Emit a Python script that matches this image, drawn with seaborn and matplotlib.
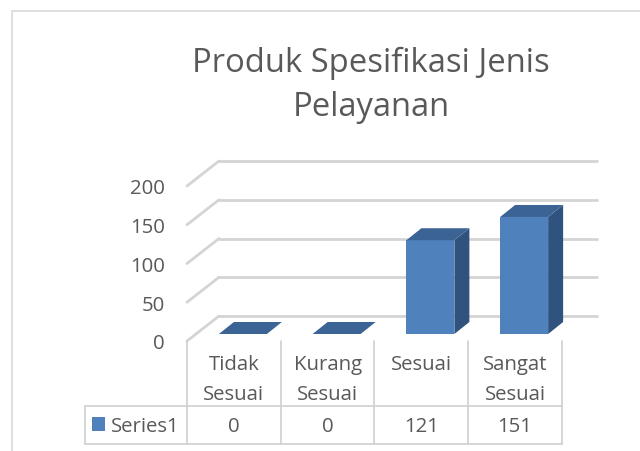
import matplotlib
matplotlib.use("Agg")
import matplotlib.pyplot as plt
import seaborn as sns
from matplotlib.patches import Polygon, Rectangle

# data
categories = ["Tidak\nSesuai", "Kurang\nSesuai", "Sesuai", "Sangat\nSesuai"]
values = [0, 0, 121, 151]
series_name = "Series1"
yticks = [0, 50, 100, 150, 200]
title = "Produk Spesifikasi Jenis\nPelayanan"

sns.set_theme(style="white")
plt.rcParams["font.family"] = ["Open Sans", "DejaVu Sans"]

TXT = "#595959"
GRID = "#d4d4d4"
FRONT = "#4f81bd"
TOP = "#3b6394"
SIDE = "#30527e"

# pixel layout -> data coords (axes covers whole figure)
X0, CW = 187, 93.75      # left of front plane, px per category
Y0, K = 342, 0.775       # px of value 0 on the front plane, px per unit


def px2x(px):
    return (px - X0) / CW - 0.5


def py2v(py):
    return (Y0 - py) / K


fig = plt.figure(figsize=(6.4, 4.52), dpi=100)
ax = fig.add_axes([0, 0, 1, 1])

sns.barplot(x=list(range(len(values))), y=values, width=0.512,
            color=FRONT, saturation=1, linewidth=0, ax=ax)
ax.set_xlim(px2x(0), px2x(640))
ax.set_ylim(py2v(452), py2v(0))
ax.axis("off")

# depth of the walls and the bars
wall_dx, wall_dy = 32 / CW, 25 / K
off_x, off_y = 9 / CW, 7 / K
bar_dx, bar_dy = 15 / CW, 12 / K

# back wall grid + left diagonal lines
for v in yticks:
    ax.plot([-0.5, -0.5 + wall_dx], [v, v + wall_dy], color=GRID, lw=2,
            solid_capstyle="round", zorder=1)
    ax.plot([-0.5 + wall_dx, px2x(597)], [v + wall_dy, v + wall_dy],
            color=GRID, lw=2, zorder=1)
    ax.text(px2x(165), v - 7.5 / K, str(v), ha="right", va="baseline",
            fontsize=14.7, color=TXT)

# 3d faces built from the seaborn bars
for p in ax.patches[:len(values)]:
    x, w, h = p.get_x(), p.get_width(), p.get_height()
    x += off_x
    p.set_xy((x, off_y))
    p.set_zorder(3)
    x1 = x + w
    top = [(x, off_y + h), (x1, off_y + h),
           (x1 + bar_dx, off_y + h + bar_dy), (x + bar_dx, off_y + h + bar_dy)]
    side = [(x1, off_y), (x1 + bar_dx, off_y + bar_dy),
            (x1 + bar_dx, off_y + h + bar_dy), (x1, off_y + h)]
    ax.add_patch(Polygon(side, closed=True, fc=SIDE, ec="none", zorder=2))
    ax.add_patch(Polygon(top, closed=True, fc=TOP, ec="none", zorder=3))

# data table
TB = "#d0d0d0"
n = len(values)
row_top, row_bot = py2v(407), py2v(445)
for i in range(n + 1):
    ax.plot([i - 0.5, i - 0.5], [py2v(342), row_bot], color=TB, lw=1.2)
ax.plot([px2x(85), px2x(85)], [row_top, row_bot], color=TB, lw=1.2)
for yy in (row_top, row_bot):
    ax.plot([px2x(85), n - 0.5], [yy, yy], color=TB, lw=1.2)

for i, (c, v) in enumerate(zip(categories, values)):
    for j, line in enumerate(c.split("\n")):
        ax.text(i, py2v(370 + 30.5 * j), line, ha="center", va="baseline",
                fontsize=14.7, color=TXT)
    ax.text(i, py2v(432), str(v), ha="center", va="baseline",
            fontsize=14.7, color=TXT)

ax.add_patch(Rectangle((px2x(92), py2v(432)), 13 / CW, 14 / K,
                       fc=FRONT, ec="none"))
ax.text(px2x(111), py2v(432), series_name, ha="left", va="baseline",
        fontsize=14.7, color=TXT)

# title
for j, line in enumerate(title.split("\n")):
    ax.text(px2x(371), py2v(71.5 + 44.5 * j), line, ha="center",
            va="baseline", fontsize=23.6, color=TXT)

# chart border
ax.plot([px2x(12), px2x(12), px2x(640)], [py2v(452), py2v(12), py2v(12)],
        color="#d9d9d9", lw=1.2)

fig.savefig("out.png", dpi=100)
